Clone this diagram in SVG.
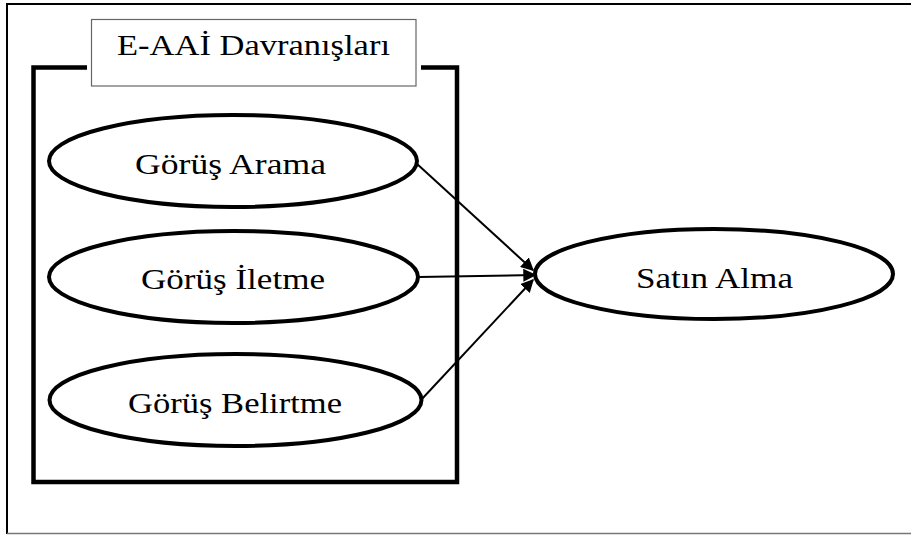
<svg xmlns="http://www.w3.org/2000/svg" width="911" height="535" viewBox="0 0 911 535">
<style>
  .lbl { font-family: "Liberation Serif", "DejaVu Serif", serif; font-size: 29px; fill: #000; }
  .node { fill: #fff; stroke: #000; stroke-width: 4; }
  .conn { stroke: #000; stroke-width: 2; fill: none; marker-end: url(#arr); }
</style>
<defs>
  <marker id="arr" viewBox="0 0 10 10" refX="9" refY="5" markerWidth="6.5" markerHeight="6.5" orient="auto" markerUnits="strokeWidth">
    <path d="M0,0 L10,5 L0,10 z" fill="#000"/>
  </marker>
</defs>
<rect x="0" y="0" width="911" height="535" fill="#fff"/>
<g id="frame">
  <line x1="7" y1="4" x2="911" y2="4" stroke="#000" stroke-width="2"/>
  <line x1="7" y1="3" x2="7" y2="534" stroke="#000" stroke-width="2"/>
  <line x1="7" y1="533.5" x2="911" y2="533.5" stroke="#777" stroke-width="1.5"/>
</g>
<g id="group-box">
  <rect x="33.5" y="67.5" width="423.5" height="414.5" fill="none" stroke="#000" stroke-width="4.5"/>
  <rect x="87" y="60" width="334" height="15" fill="#fff"/>
  <rect x="91.5" y="19.5" width="324.5" height="66.5" fill="#fff" stroke="#666" stroke-width="1.2"/>
  <text class="lbl" x="117" y="55" textLength="273" lengthAdjust="spacingAndGlyphs">E-AAİ Davranışları</text>
</g>
<g id="connectors">
  <line class="conn" x1="416" y1="163" x2="533" y2="270"/>
  <line class="conn" x1="419" y1="277" x2="535" y2="275"/>
  <line class="conn" x1="421" y1="400" x2="533" y2="280"/>
</g>
<g id="node-arama">
  <ellipse class="node" cx="233" cy="161" rx="184" ry="46"/>
  <text class="lbl" x="135" y="174" textLength="191" lengthAdjust="spacingAndGlyphs">Görüş Arama</text>
</g>
<g id="node-iletme">
  <ellipse class="node" cx="233.5" cy="277" rx="184.5" ry="46"/>
  <text class="lbl" x="141" y="289" textLength="184" lengthAdjust="spacingAndGlyphs">Görüş İletme</text>
</g>
<g id="node-belirtme">
  <ellipse class="node" cx="235.5" cy="400" rx="186" ry="46"/>
  <text class="lbl" x="128" y="413" textLength="214" lengthAdjust="spacingAndGlyphs">Görüş Belirtme</text>
</g>
<g id="node-satin">
  <ellipse class="node" cx="714" cy="274" rx="179" ry="45"/>
  <text class="lbl" x="636" y="288" textLength="157" lengthAdjust="spacingAndGlyphs">Satın Alma</text>
</g>
</svg>
